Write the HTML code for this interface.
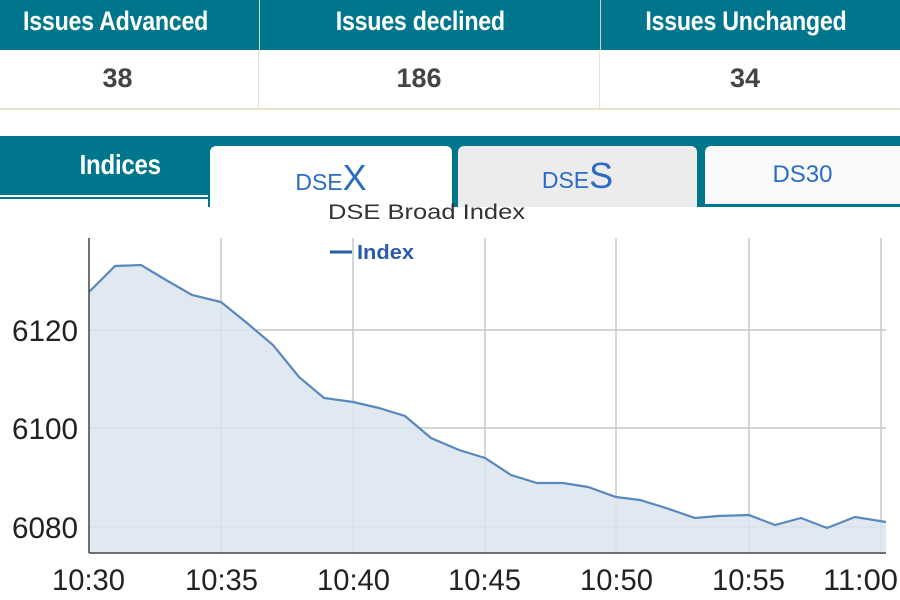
<!DOCTYPE html>
<html><head><style>
body{margin:0;width:900px;height:600px;overflow:hidden;background:#fff;font-family:"Liberation Sans",sans-serif;position:relative}
.a{position:absolute}
.h{top:0;height:50px;background:#00768c;color:#fff;font-size:27px;text-align:center;line-height:42px}
.v{top:51px;height:57px;color:#444;font-size:27px;font-weight:bold;text-align:center;line-height:54px;border-bottom:2px solid #e6e2cc}
.c{display:inline-block;transform:scaleX(0.86);font-weight:bold;letter-spacing:-0.3px}
</style></head><body>
<div class="a h" style="left:0;width:900px"></div>
<div class="a h" style="left:0;width:232px;"><span class="c">Issues Advanced</span></div>
<div class="a h" style="left:259px;width:320px;border-left:1px solid #d8d4b0"><span class="c">Issues declined</span></div>
<div class="a h" style="left:600px;width:290px;border-left:1px solid #d8d4b0"><span class="c">Issues Unchanged</span></div>
<div class="a v" style="left:0;width:900px"></div>
<div class="a v" style="left:0;width:235px;">38</div>
<div class="a v" style="left:258px;width:320px;border-left:1px solid #e6e2cc">186</div>
<div class="a v" style="left:599px;width:290px;border-left:1px solid #e6e2cc">34</div>
<div class="a" style="left:0;top:136px;width:900px;height:71px;background:#00768c"></div>
<div class="a" style="left:0;top:195px;width:208px;height:2px;background:#fff"></div>
<div class="a" style="left:0;top:197px;width:208px;height:12px;background:#fff;border-top:2px solid #00768c"></div>
<div class="a" style="left:20px;top:149px;width:200px;text-align:center;color:#fff;font-size:28px"><span class="c">Indices</span></div>
<div class="a" style="left:210px;top:146px;width:242px;height:70px;background:#fff;border-radius:6px 6px 0 0;text-align:center;color:#2b6cc4;font-size:23px;line-height:64px">DSE<span style="font-size:36px">X</span></div>
<div class="a" style="left:458px;top:146px;width:239px;height:61px;background:#ececec;border-radius:6px 6px 0 0;text-align:center;color:#2b6cc4;font-size:23px;line-height:60px">DSE<span style="font-size:36px">S</span></div>
<div class="a" style="left:705px;top:146px;width:195px;height:58px;background:#fafafa;border-radius:6px 0 0 0;text-align:center;color:#2b6cc4;font-size:24px;line-height:58px">DS30</div>
<svg class="a" style="left:0;top:0" width="900" height="600">
<g stroke="#c8c8c8" stroke-width="1.5">
<line x1="221" y1="238" x2="221" y2="553"/><line x1="353" y1="238" x2="353" y2="553"/><line x1="485" y1="238" x2="485" y2="553"/><line x1="616" y1="238" x2="616" y2="553"/><line x1="749" y1="238" x2="749" y2="553"/><line x1="881" y1="238" x2="881" y2="553"/>
<line x1="89" y1="330" x2="886" y2="330"/><line x1="89" y1="428" x2="886" y2="428"/><line x1="89" y1="527" x2="886" y2="527"/>
</g>
<path d="M89,292 L115,266 141,265 166,280 192,295 221,302 247,323 273,345 299,377 324,398 353,402 379,408 405,416 431,438 459,450 485,458 511,475 537,483 563,483 588,487 616,497 640,500 666,508 695,518 718,516 749,515 775,525 801,518 827,528 855,517 886,522 L886,553 L89,553Z" fill="#dbe4ef" fill-opacity="0.85"/>
<polyline points="89,292 115,266 141,265 166,280 192,295 221,302 247,323 273,345 299,377 324,398 353,402 379,408 405,416 431,438 459,450 485,458 511,475 537,483 563,483 588,487 616,497 640,500 666,508 695,518 718,516 749,515 775,525 801,518 827,528 855,517 886,522" fill="none" stroke="#5a88bb" stroke-width="2.2"/>
<line x1="89" y1="238" x2="89" y2="553" stroke="#444" stroke-width="1.5"/>
<line x1="89" y1="553" x2="886" y2="553" stroke="#444" stroke-width="1.5"/>
<g font-family="Liberation Sans" font-size="30" fill="#222">
<text x="12" y="341" textLength="66" lengthAdjust="spacingAndGlyphs">6120</text>
<text x="12" y="439" textLength="66" lengthAdjust="spacingAndGlyphs">6100</text>
<text x="12" y="538" textLength="66" lengthAdjust="spacingAndGlyphs">6080</text>
<text x="52" y="590" textLength="73" lengthAdjust="spacingAndGlyphs">10:30</text>
<text x="185" y="590" textLength="73" lengthAdjust="spacingAndGlyphs">10:35</text>
<text x="317" y="590" textLength="73" lengthAdjust="spacingAndGlyphs">10:40</text>
<text x="448" y="590" textLength="73" lengthAdjust="spacingAndGlyphs">10:45</text>
<text x="580" y="590" textLength="73" lengthAdjust="spacingAndGlyphs">10:50</text>
<text x="712" y="590" textLength="73" lengthAdjust="spacingAndGlyphs">10:55</text>
<text x="823" y="590" textLength="75" lengthAdjust="spacingAndGlyphs">11:00</text></g>
<text x="328" y="219" font-family="Liberation Sans" font-size="21" fill="#333" textLength="197" lengthAdjust="spacingAndGlyphs">DSE Broad Index</text>
<line x1="330" y1="252" x2="352" y2="252" stroke="#2a5ca8" stroke-width="3"/>
<text x="357" y="259" font-family="Liberation Sans" font-size="20" font-weight="bold" fill="#2a5ca8" textLength="57" lengthAdjust="spacingAndGlyphs">Index</text>
</svg>
</body></html>
